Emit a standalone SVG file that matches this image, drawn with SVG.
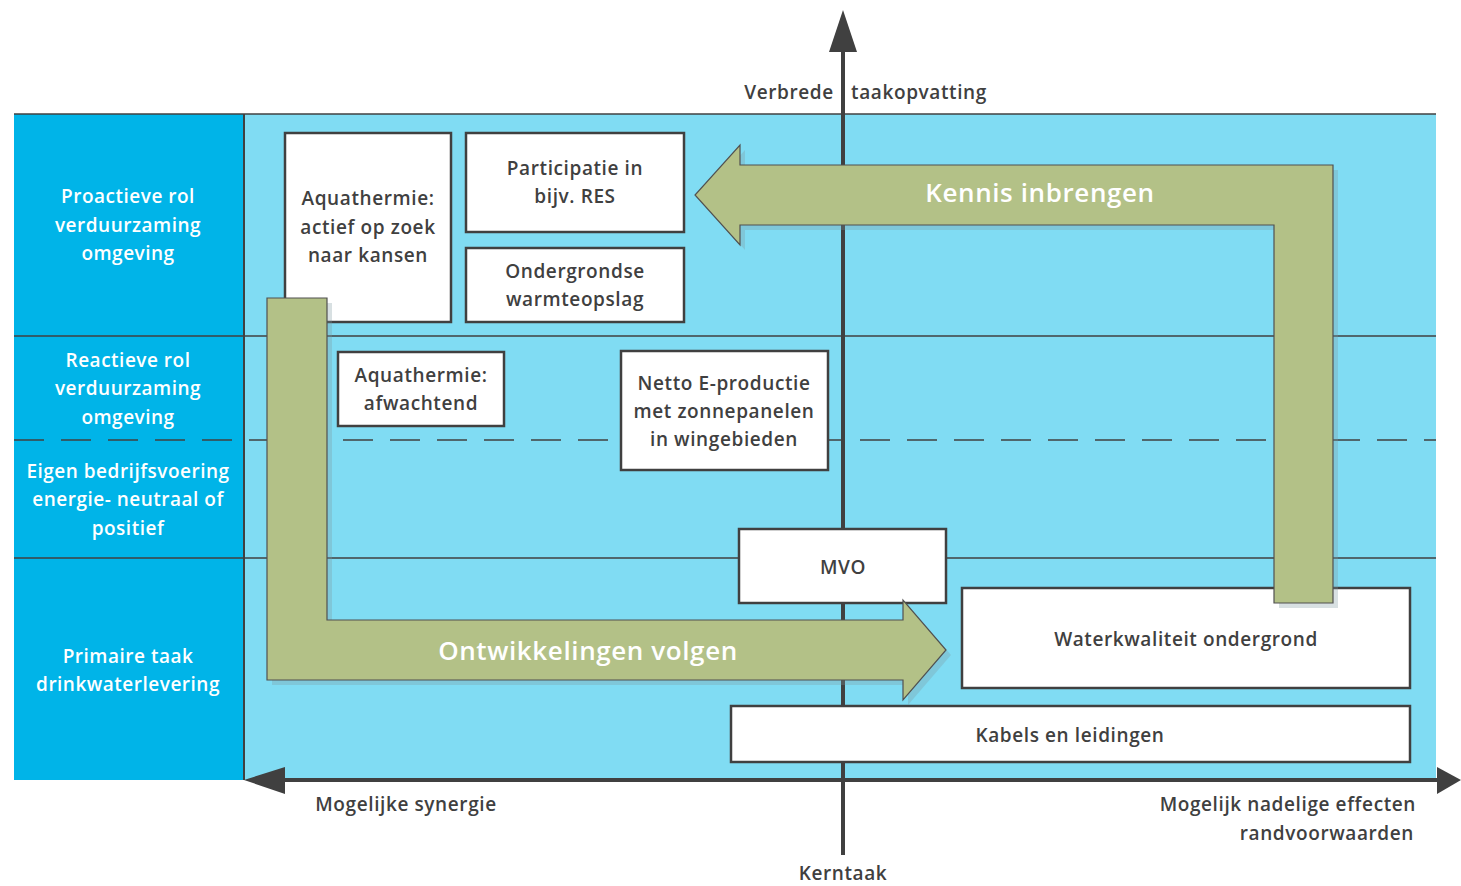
<svg xmlns="http://www.w3.org/2000/svg" width="1461" height="886" viewBox="0 0 1461 886">
<style>
.t{font-family:"Open Sans","Liberation Sans",sans-serif;font-weight:600;fill:#404040;font-size:19px;letter-spacing:0.6px;text-anchor:middle}
.w{font-family:"Open Sans","Liberation Sans",sans-serif;font-weight:600;fill:#ffffff;font-size:19px;letter-spacing:0.5px;text-anchor:middle}
.big{font-family:"Open Sans","Liberation Sans",sans-serif;font-weight:600;fill:#ffffff;font-size:26px;letter-spacing:0.6px;text-anchor:middle}
.box{fill:#ffffff;stroke:#404040;stroke-width:2.5}
.grid{stroke:#404040;stroke-width:1.5;fill:none}
.arrow{fill:#b3c187;stroke:#505050;stroke-width:1.2}
.shadow{fill:#7f98a0;opacity:0.3}
.axis{stroke:#404040;stroke-width:4;fill:none}
.head{fill:#404040}
</style>
<rect width="1461" height="886" fill="#ffffff"/>
<g id="background">
<rect x="244" y="114" width="1192" height="666" fill="#80dcf3"/>
<rect x="14" y="114" width="230" height="666" fill="#00b4e8"/>
<line class="grid" x1="14" y1="114" x2="1436" y2="114"/>
<line class="grid" x1="14" y1="336" x2="1436" y2="336"/>
<line class="grid" x1="14" y1="558" x2="1436" y2="558"/>
<line class="grid" x1="14" y1="440" x2="1436" y2="440" stroke-dasharray="30 17"/>
<line x1="244" y1="114" x2="244" y2="780" stroke="#404040" stroke-width="2"/>
</g>
<g id="row-labels">
<text class="w"><tspan x="128" y="203">Proactieve rol</tspan><tspan x="128" y="232">verduurzaming</tspan><tspan x="128" y="260">omgeving</tspan></text>
<text class="w"><tspan x="128" y="367">Reactieve rol</tspan><tspan x="128" y="395">verduurzaming</tspan><tspan x="128" y="424">omgeving</tspan></text>
<text class="w"><tspan x="128" y="478">Eigen bedrijfsvoering</tspan><tspan x="128" y="506">energie- neutraal of</tspan><tspan x="128" y="535">positief</tspan></text>
<text class="w"><tspan x="128" y="663">Primaire taak</tspan><tspan x="128" y="691">drinkwaterlevering</tspan></text>
</g>
<g id="connectors">
<line class="axis" x1="843" y1="50" x2="843" y2="855"/>
<polygon class="head" points="843,10 857,52 829,52"/>
<line class="axis" x1="280" y1="780" x2="1440" y2="780"/>
<polygon class="head" points="244,780 285,767 285,794"/>
<polygon class="head" points="1461,780 1437,767 1437,794"/>
</g>
<g id="axis-labels">
<text class="t" x="789" y="99">Verbrede</text>
<text class="t" x="919" y="99">taakopvatting</text>
<text class="t" x="843" y="880">Kerntaak</text>
<text class="t" x="406" y="811">Mogelijke synergie</text>
<text class="t" x="1416" y="811" style="text-anchor:end">Mogelijk nadelige effecten</text>
<text class="t" x="1414" y="840" style="text-anchor:end">randvoorwaarden</text>
</g>
<g id="node-aquathermie-actief">
<rect class="box" x="285" y="133" width="166" height="189"/>
<text class="t"><tspan x="368" y="205">Aquathermie:</tspan><tspan x="368" y="234">actief op zoek</tspan><tspan x="368" y="262">naar kansen</tspan></text>
</g>
<g id="node-participatie">
<rect class="box" x="466" y="133" width="218" height="99"/>
<text class="t"><tspan x="575" y="175">Participatie in</tspan><tspan x="575" y="203">bijv. RES</tspan></text>
</g>
<g id="node-ondergrondse">
<rect class="box" x="466" y="248" width="218" height="74"/>
<text class="t"><tspan x="575" y="278">Ondergrondse</tspan><tspan x="575" y="306">warmteopslag</tspan></text>
</g>
<g id="node-aquathermie-afwachtend">
<rect class="box" x="338" y="352" width="166" height="74"/>
<text class="t"><tspan x="421" y="382">Aquathermie:</tspan><tspan x="421" y="410">afwachtend</tspan></text>
</g>
<g id="node-netto">
<rect class="box" x="621" y="351" width="207" height="119"/>
<text class="t"><tspan x="724" y="390">Netto E-productie</tspan><tspan x="724" y="418">met zonnepanelen</tspan><tspan x="724" y="446">in wingebieden</tspan></text>
</g>
<g id="node-mvo">
<rect class="box" x="739" y="529" width="207" height="74"/>
<text class="t" x="843" y="574">MVO</text>
</g>
<g id="node-waterkwaliteit">
<rect class="box" x="962" y="588" width="448" height="100"/>
<text class="t" x="1186" y="646">Waterkwaliteit ondergrond</text>
</g>
<g id="node-kabels">
<rect class="box" x="731" y="706" width="679" height="56"/>
<text class="t" x="1070" y="742">Kabels en leidingen</text>
</g>
<g id="arrow-ontwikkelingen">
<path class="shadow" transform="translate(5,5)" d="M267,298 L327,298 L327,620 L903,620 L903,600 L946,650 L903,700 L903,680 L267,680 Z"/>
<path class="arrow" d="M267,298 L327,298 L327,620 L903,620 L903,600 L946,650 L903,700 L903,680 L267,680 Z"/>
<text class="big" x="588" y="660">Ontwikkelingen volgen</text>
</g>
<g id="arrow-kennis">
<path class="shadow" transform="translate(5,5)" d="M1333,165 L1333,603 L1274,603 L1274,225 L740,225 L740,245 L695,195 L740,145 L740,165 Z"/>
<path class="arrow" d="M1333,165 L1333,603 L1274,603 L1274,225 L740,225 L740,245 L695,195 L740,145 L740,165 Z"/>
<text class="big" x="1040" y="202">Kennis inbrengen</text>
</g>
</svg>
